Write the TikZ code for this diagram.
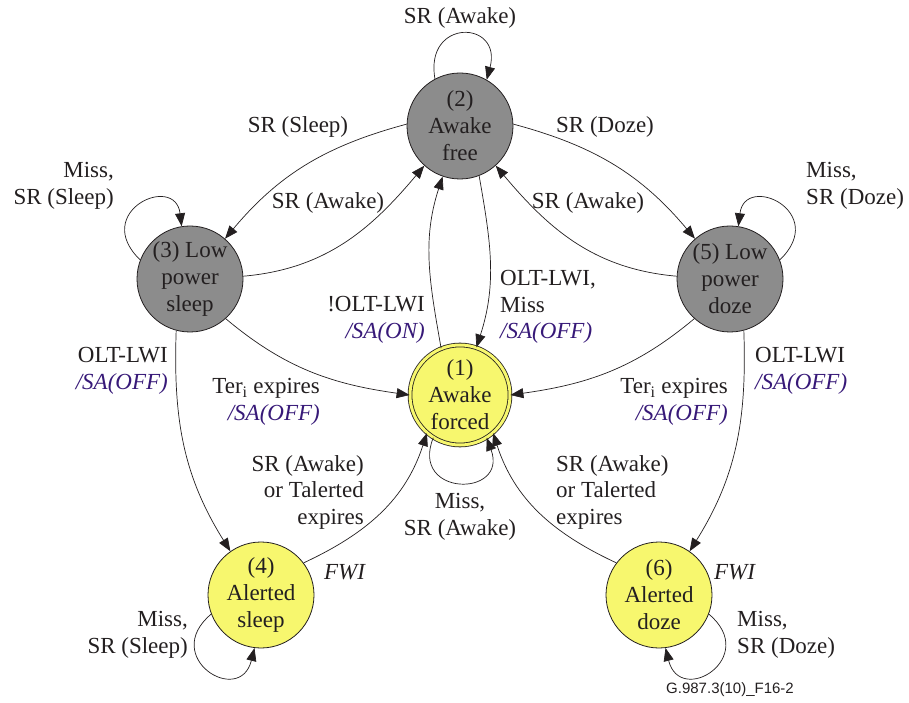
\documentclass[tikz,border=0pt]{standalone}
\usepackage{fontspec}
\setmainfont{Liberation Serif}
\newfontfamily\tnr{Liberation Serif}
\newfontfamily\footfont{Liberation Sans}
\usetikzlibrary{arrows.meta}
\definecolor{txt}{RGB}{35,31,32}
\definecolor{grayfill}{RGB}{140,140,140}
\definecolor{yelfill}{RGB}{247,247,110}
\definecolor{sapurple}{RGB}{55,25,120}
\newcommand{\sa}[1]{\textcolor{sapurple}{\textit{#1}}}
\tikzset{
  state/.style={circle, draw=txt, line width=0.8pt, minimum size=106pt, inner sep=0pt, align=center, text=txt, font=\tnr\fontsize{23}{27}\selectfont},
  lowstate/.style={state, fill=grayfill},
  alertstate/.style={state, fill=yelfill},
  forcedstate/.style={state, fill=yelfill, double=yelfill, double distance=3pt, minimum size=100pt},
  edge/.style={draw=txt, line width=0.7pt, -{Triangle[length=13pt,width=10pt]}},
  lab/.style={text=txt, font=\tnr\fontsize{23}{26.5}\selectfont, inner sep=0pt},
}
\begin{document}
\begin{tikzpicture}[x=1pt,y=1pt]
\useasboundingbox (0,0) rectangle (909,702);
% states
\node[forcedstate] (n1) at (460,307) {(1)\\Awake\\forced};
\node[lowstate] (n2) at (460,576) {(2)\\Awake\\free};
\node[lowstate] (n3) at (190,423) {(3) Low\\power\\sleep};
\node[lowstate] (n5) at (730,423) {(5) Low\\power\\doze};
\node[alertstate] (n4) at (261,107) {(4)\\Alerted\\sleep};
\node[alertstate] (n6) at (659,107) {(6)\\Alerted\\doze};
% self loops
\draw[edge] (n2.118) .. controls +(100:62) and +(75:62) .. (n2.60);
\draw[edge] (n3.159) .. controls +(136:69) and +(97:54) .. (n3.99);
\draw[edge] (n5.21) .. controls +(44:69) and +(83:54) .. (n5.81);
\draw[edge] (n1.238) .. controls +(248:64) and +(290:64) .. (n1.302);
\draw[edge] (n4.201) .. controls +(220:67) and +(256:61) .. (n4.263);
\draw[edge] (n6.339) .. controls +(320:67) and +(284:61) .. (n6.277);
% transitions between 2 and 3 / 5
\draw[edge] (n2.178) to[out=195,in=50] (n3.49);
\draw[edge] (n3.3) to[out=5,in=230] (n2.228);
\draw[edge] (n2.2) to[out=-15,in=130] (n5.131);
\draw[edge] (n5.177) to[out=175,in=310] (n2.312);
% between 1 and 2
\draw[edge] (n1.112) to[out=100,in=252] (n2.251);
\draw[edge] (n2.291) to[out=280,in=72] (n1.71);
% 3/5 to 1
\draw[edge] (n3.312) to[out=-40,in=172] (n1.180);
\draw[edge] (n5.228) to[out=220,in=8] (n1.0);
% 3->4, 5->6
\draw[edge] (n3.255) to[out=268,in=122] (n4.125);
\draw[edge] (n5.285) to[out=272,in=58] (n6.55);
% 4/6 -> 1
\draw[edge] (n4.37) to[out=25,in=252] (n1.229);
\draw[edge] (n6.143) to[out=155,in=288] (n1.311);
% labels
\node[lab] (l1) at (460,684) {SR (Awake)};
\node[lab] (l2) at (298,575) {SR (Sleep)};
\node[lab] (l3) at (605,575) {SR (Doze)};
\node[lab] (l4) at (328,499) {SR (Awake)};
\node[lab] (l5) at (588,499) {SR (Awake)};
\node[lab, align=right, anchor=east] (l6) at (114,516) {Miss,\\SR (Sleep)};
\node[lab, align=left, anchor=west] (l7) at (806,516) {Miss,\\SR (Doze)};
\node[lab, align=right, anchor=east] (l8) at (425,382) {!OLT-LWI\\\sa{/SA(ON)}};
\node[lab, align=left, anchor=west] (l9) at (500,395) {OLT-LWI,\\Miss\\\sa{/SA(OFF)}};
\node[lab, align=right, anchor=east] (l10) at (320,300) {Ter\textsubscript{i} expires\\\sa{/SA(OFF)}};
\node[lab, align=right, anchor=east] (l11) at (728,300) {Ter\textsubscript{i} expires\\\sa{/SA(OFF)}};
\node[lab, align=right, anchor=east] (l12) at (168,331) {OLT-LWI\\\sa{/SA(OFF)}};
\node[lab, align=left, anchor=west] (l13) at (755,331) {OLT-LWI\\\sa{/SA(OFF)}};
\node[lab, align=right, anchor=east] (l14) at (364,210) {SR (Awake)\\or Talerted\\expires};
\node[lab, align=left, anchor=west] (l15) at (556,210) {SR (Awake)\\or Talerted\\expires};
\node[lab, align=center] (l16) at (460,185) {Miss,\\SR (Awake)};
\node[lab] (l17) at (345,130) {\textit{FWI}};
\node[lab] (l18) at (735,130) {\textit{FWI}};
\node[lab, align=right, anchor=east] (l19) at (188,67) {Miss,\\SR (Sleep)};
\node[lab, align=left, anchor=west] (l20) at (737,67) {Miss,\\SR (Doze)};
\node[text=txt, font=\footfont\fontsize{15}{17}\selectfont] (foot) at (730,12) {G.987.3(10)\_F16-2};
\end{tikzpicture}
\end{document}
